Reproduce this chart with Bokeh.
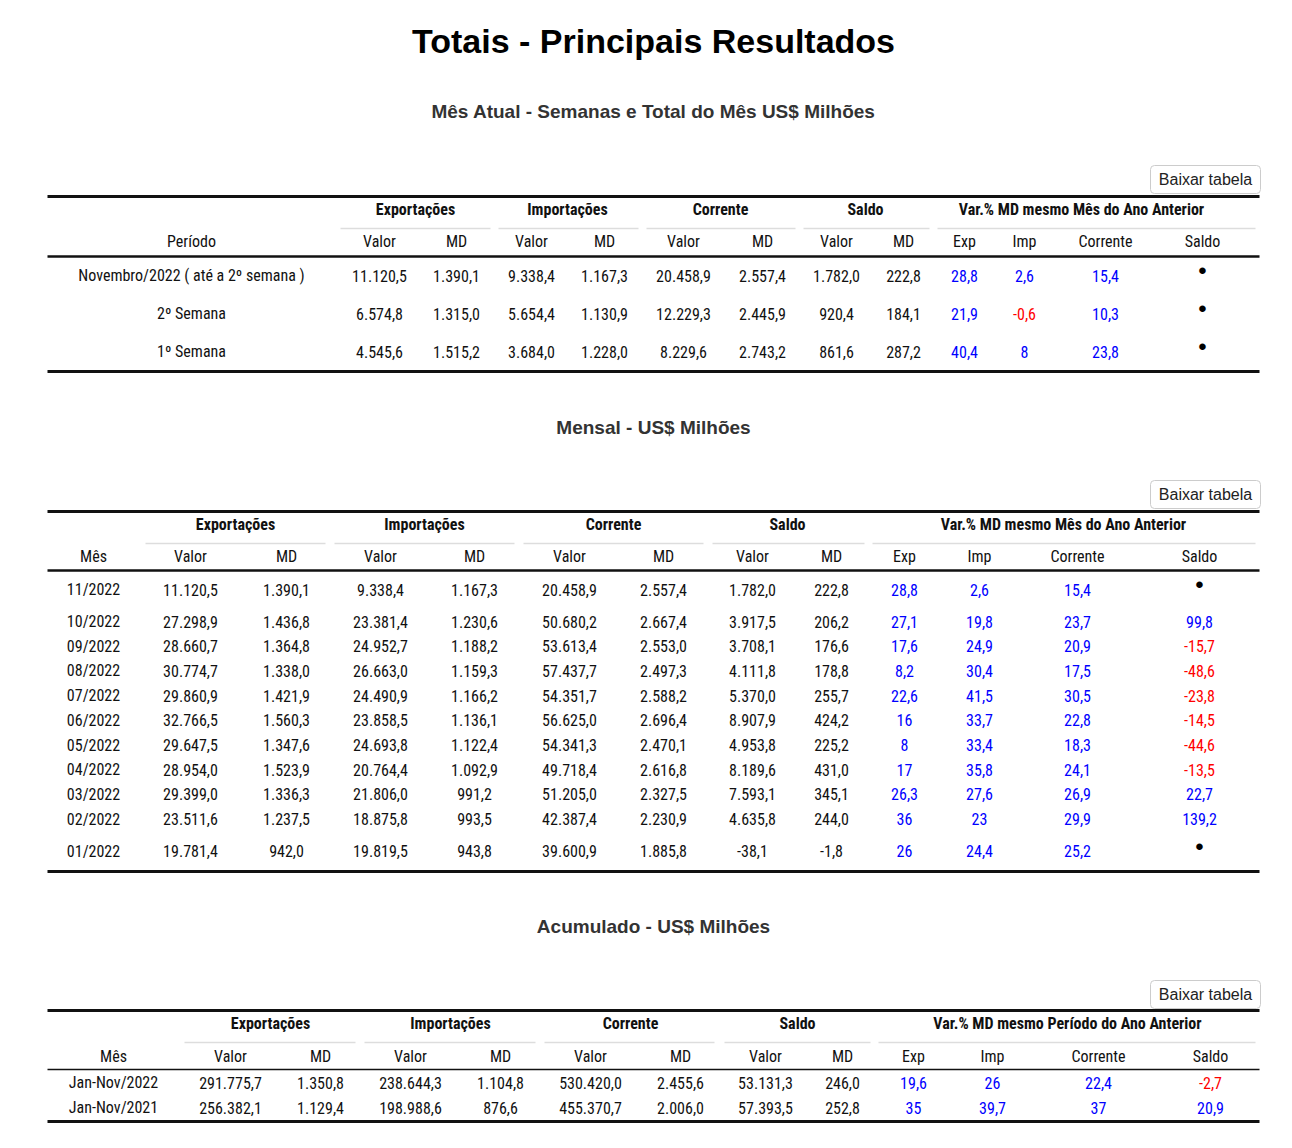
from bokeh.plotting import figure
from bokeh.models import Range1d, ColumnDataSource, BoxAnnotation
from bokeh.core.properties import value
from bokeh.embed import file_html
from bokeh.resources import INLINE

# ---------------- DATA ----------------
main_title = "Totais - Principais Resultados"
sub_titles = ["Mês Atual - Semanas e Total do Mês US$ Milhões", "Mensal - US$ Milhões", "Acumulado - US$ Milhões"]
button_label = "Baixar tabela"
group_labels = ["Exportações", "Importações", "Corrente", "Saldo"]
var_group_labels = ["Var.% MD mesmo Mês do Ano Anterior", "Var.% MD mesmo Mês do Ano Anterior",
                    "Var.% MD mesmo Período do Ano Anterior"]
first_col_labels = ["Período", "Mês", "Mês"]
sub_cols = ["Valor", "MD", "Valor", "MD", "Valor", "MD", "Valor", "MD", "Exp", "Imp", "Corrente", "Saldo"]

# Table 1 - Mês atual
t1_periodo = ["Novembro/2022 ( até a 2º semana )", "2º Semana", "1º Semana"]
t1_exp_valor = [11120.5, 6574.8, 4545.6]
t1_exp_md = [1390.1, 1315.0, 1515.2]
t1_imp_valor = [9338.4, 5654.4, 3684.0]
t1_imp_md = [1167.3, 1130.9, 1228.0]
t1_cor_valor = [20458.9, 12229.3, 8229.6]
t1_cor_md = [2557.4, 2445.9, 2743.2]
t1_sal_valor = [1782.0, 920.4, 861.6]
t1_sal_md = [222.8, 184.1, 287.2]
t1_var_exp = [28.8, 21.9, 40.4]
t1_var_imp = [2.6, -0.6, 8]
t1_var_cor = [15.4, 10.3, 23.8]
t1_var_sal = [None, None, None]

# Table 2 - Mensal
t2_mes = ["11/2022", "10/2022", "09/2022", "08/2022", "07/2022", "06/2022",
          "05/2022", "04/2022", "03/2022", "02/2022", "01/2022"]
t2_exp_valor = [11120.5, 27298.9, 28660.7, 30774.7, 29860.9, 32766.5, 29647.5, 28954.0, 29399.0, 23511.6, 19781.4]
t2_exp_md = [1390.1, 1436.8, 1364.8, 1338.0, 1421.9, 1560.3, 1347.6, 1523.9, 1336.3, 1237.5, 942.0]
t2_imp_valor = [9338.4, 23381.4, 24952.7, 26663.0, 24490.9, 23858.5, 24693.8, 20764.4, 21806.0, 18875.8, 19819.5]
t2_imp_md = [1167.3, 1230.6, 1188.2, 1159.3, 1166.2, 1136.1, 1122.4, 1092.9, 991.2, 993.5, 943.8]
t2_cor_valor = [20458.9, 50680.2, 53613.4, 57437.7, 54351.7, 56625.0, 54341.3, 49718.4, 51205.0, 42387.4, 39600.9]
t2_cor_md = [2557.4, 2667.4, 2553.0, 2497.3, 2588.2, 2696.4, 2470.1, 2616.8, 2327.5, 2230.9, 1885.8]
t2_sal_valor = [1782.0, 3917.5, 3708.1, 4111.8, 5370.0, 8907.9, 4953.8, 8189.6, 7593.1, 4635.8, -38.1]
t2_sal_md = [222.8, 206.2, 176.6, 178.8, 255.7, 424.2, 225.2, 431.0, 345.1, 244.0, -1.8]
t2_var_exp = [28.8, 27.1, 17.6, 8.2, 22.6, 16, 8, 17, 26.3, 36, 26]
t2_var_imp = [2.6, 19.8, 24.9, 30.4, 41.5, 33.7, 33.4, 35.8, 27.6, 23, 24.4]
t2_var_cor = [15.4, 23.7, 20.9, 17.5, 30.5, 22.8, 18.3, 24.1, 26.9, 29.9, 25.2]
t2_var_sal = [None, 99.8, -15.7, -48.6, -23.8, -14.5, -44.6, -13.5, 22.7, 139.2, None]

# Table 3 - Acumulado
t3_periodo = ["Jan-Nov/2022", "Jan-Nov/2021"]
t3_exp_valor = [291775.7, 256382.1]
t3_exp_md = [1350.8, 1129.4]
t3_imp_valor = [238644.3, 198988.6]
t3_imp_md = [1104.8, 876.6]
t3_cor_valor = [530420.0, 455370.7]
t3_cor_md = [2455.6, 2006.0]
t3_sal_valor = [53131.3, 57393.5]
t3_sal_md = [246.0, 252.8]
t3_var_exp = [19.6, 35]
t3_var_imp = [26, 39.7]
t3_var_cor = [22.4, 37]
t3_var_sal = [-2.7, 20.9]

# ---------------- HELPERS ----------------
def br(v):
    s = f"{v:,.1f}"
    return s.replace(",", "X").replace(".", ",").replace("X", ".")

def br_var(v):
    s = br(v)
    return s[:-2] if s.endswith(",0") else s

BODY_FONT = value("'Liberation Sans Narrow', 'Arial Narrow', 'Roboto Condensed', 'Liberation Sans', sans-serif")
TITLE_FONT = value("'Liberation Sans', Arial, Helvetica, sans-serif")
BLUE = "#0000ff"
RED = "#ff0000"
INK = "#111111"

W, H = 1276, 1132
p = figure(width=W, height=H, output_backend="svg", toolbar_location=None,
           x_range=Range1d(0, W), y_range=Range1d(H, 0),
           min_border=0, outline_line_color=None, background_fill_color="white",
           border_fill_color="white")
p.axis.visible = False
p.xgrid.visible = False
p.ygrid.visible = False


def put_text(xs, ys, texts, colors=None, size="15px", style="normal", font=BODY_FONT, align="center"):
    if colors is None:
        colors = [INK] * len(texts)
    src = ColumnDataSource(dict(x=xs, y=ys, t=texts, c=colors))
    p.text(x="x", y="y", text="t", source=src, text_color="c", text_font=font,
           text_font_size=size, text_font_style=style, text_align=align, text_baseline="middle")


def hline(y, x0, x1, width, color="#111111"):
    p.segment(x0=[x0], y0=[y], x1=[x1], y1=[y], line_width=width, line_color=color)


def button(xc, yc):
    p.add_layout(BoxAnnotation(left=xc - 55, right=xc + 55, top=yc - 14, bottom=yc + 14,
                               fill_color="white", fill_alpha=1.0, line_color="#cccccc",
                               line_width=1, line_alpha=1.0, border_radius=4, level="underlay"))
    put_text([xc], [yc], [button_label], size="16px", font=TITLE_FONT, colors=["#222222"])


def draw_table(lay, first, cols, var_cols, row_ys, group_var_label, first_label):
    x_left, x_right = 47, 1259
    hline(lay["top"], x_left, x_right, 3)
    put_text(lay["group_x"] + [lay["var_x"]], [lay["group_y"]] * 5, group_labels + [group_var_label],
             style="bold", size="16px")
    for (a, b) in lay["under"]:
        hline(lay["under_y"], a, b, 1.5, "#dddddd")
    put_text([lay["label_x"]] + lay["val_x"] + lay["var_xs"], [lay["sub_y"]] * 13,
             [first_label] + sub_cols, size="16px")
    hline(lay["sub_line"], x_left, x_right, lay.get("sub_w", 2.5))
    n = len(first)
    put_text([lay["label_x"]] * n, row_ys, first, size="16px")
    for ci, col in enumerate(cols):
        put_text([lay["val_x"][ci]] * n, row_ys, [br(v) for v in col], size="16px")
    for ci, col in enumerate(var_cols):
        xs, ys, ts, cs = [], [], [], []
        dx, dy, dt = [], [], []
        for r, v in enumerate(col):
            if v is None:
                dx.append(lay["var_xs"][ci]); dy.append(row_ys[r] - 5); dt.append("•")
            else:
                xs.append(lay["var_xs"][ci]); ys.append(row_ys[r]); ts.append(br_var(v))
                cs.append(BLUE if v >= 0 else RED)
        if ts:
            put_text(xs, ys, ts, colors=cs, size="16px")
        if dt:
            put_text(dx, dy, dt, size="24px", font=TITLE_FONT, colors=["#000000"] * len(dt))
    hline(lay["bottom"], x_left, x_right, 3)


# ---------------- TITLES ----------------
put_text([653], [40], [main_title], size="34px", style="bold", font=TITLE_FONT, colors=["#000000"])
put_text([653], [111], [sub_titles[0]], size="19px", style="bold", font=TITLE_FONT, colors=["#333333"])
put_text([653], [427], [sub_titles[1]], size="19px", style="bold", font=TITLE_FONT, colors=["#333333"])
put_text([653], [926], [sub_titles[2]], size="19px", style="bold", font=TITLE_FONT, colors=["#333333"])

# ---------------- TABLE 1 ----------------
button(1205, 179)
lay1 = dict(top=196, group_y=209, under_y=228, sub_y=241, sub_line=256, bottom=371,
            group_x=[415, 567, 720, 865], var_x=1081,
            under=[(340, 490), (498, 638), (646, 795), (803, 929), (937, 1255)],
            label_x=191, val_x=[379, 456, 531, 604, 683, 762, 836, 903], var_xs=[964, 1024, 1105, 1202])
rows1 = [275 + 38 * i for i in range(len(t1_periodo))]
draw_table(lay1, t1_periodo,
           [t1_exp_valor, t1_exp_md, t1_imp_valor, t1_imp_md, t1_cor_valor, t1_cor_md, t1_sal_valor, t1_sal_md],
           [t1_var_exp, t1_var_imp, t1_var_cor, t1_var_sal], rows1, var_group_labels[0], first_col_labels[0])

# ---------------- TABLE 2 ----------------
button(1205, 494)
lay2 = dict(top=511, group_y=524, under_y=543, sub_y=556, sub_line=570, bottom=871,
            group_x=[235, 424, 613, 787], var_x=1063,
            under=[(145, 325), (334, 514), (523, 703), (712, 864), (872, 1255)],
            label_x=93, val_x=[190, 286, 380, 474, 569, 663, 752, 831], var_xs=[904, 979, 1077, 1199])
rows2 = [589.0]
for i in range(1, len(t2_mes)):
    tall = t2_var_sal[i] is None or t2_var_sal[i - 1] is None
    rows2.append(rows2[-1] + (32 if tall else 24.7))
draw_table(lay2, t2_mes,
           [t2_exp_valor, t2_exp_md, t2_imp_valor, t2_imp_md, t2_cor_valor, t2_cor_md, t2_sal_valor, t2_sal_md],
           [t2_var_exp, t2_var_imp, t2_var_cor, t2_var_sal], rows2, var_group_labels[1], first_col_labels[1])

# ---------------- TABLE 3 ----------------
button(1205, 994)
lay3 = dict(top=1010, group_y=1023, under_y=1042, sub_y=1056, sub_line=1069, sub_w=1.5, bottom=1121,
            group_x=[270, 450, 630, 797], var_x=1067,
            under=[(184, 355), (364, 535), (544, 714), (724, 870), (878, 1255)],
            label_x=113, val_x=[230, 320, 410, 500, 590, 680, 765, 842], var_xs=[913, 992, 1098, 1210])
rows3 = [1082 + 25 * i for i in range(len(t3_periodo))]
draw_table(lay3, t3_periodo,
           [t3_exp_valor, t3_exp_md, t3_imp_valor, t3_imp_md, t3_cor_valor, t3_cor_md, t3_sal_valor, t3_sal_md],
           [t3_var_exp, t3_var_imp, t3_var_cor, t3_var_sal], rows3, var_group_labels[2], first_col_labels[2])

open("out.html", "w").write(file_html(p, INLINE))
